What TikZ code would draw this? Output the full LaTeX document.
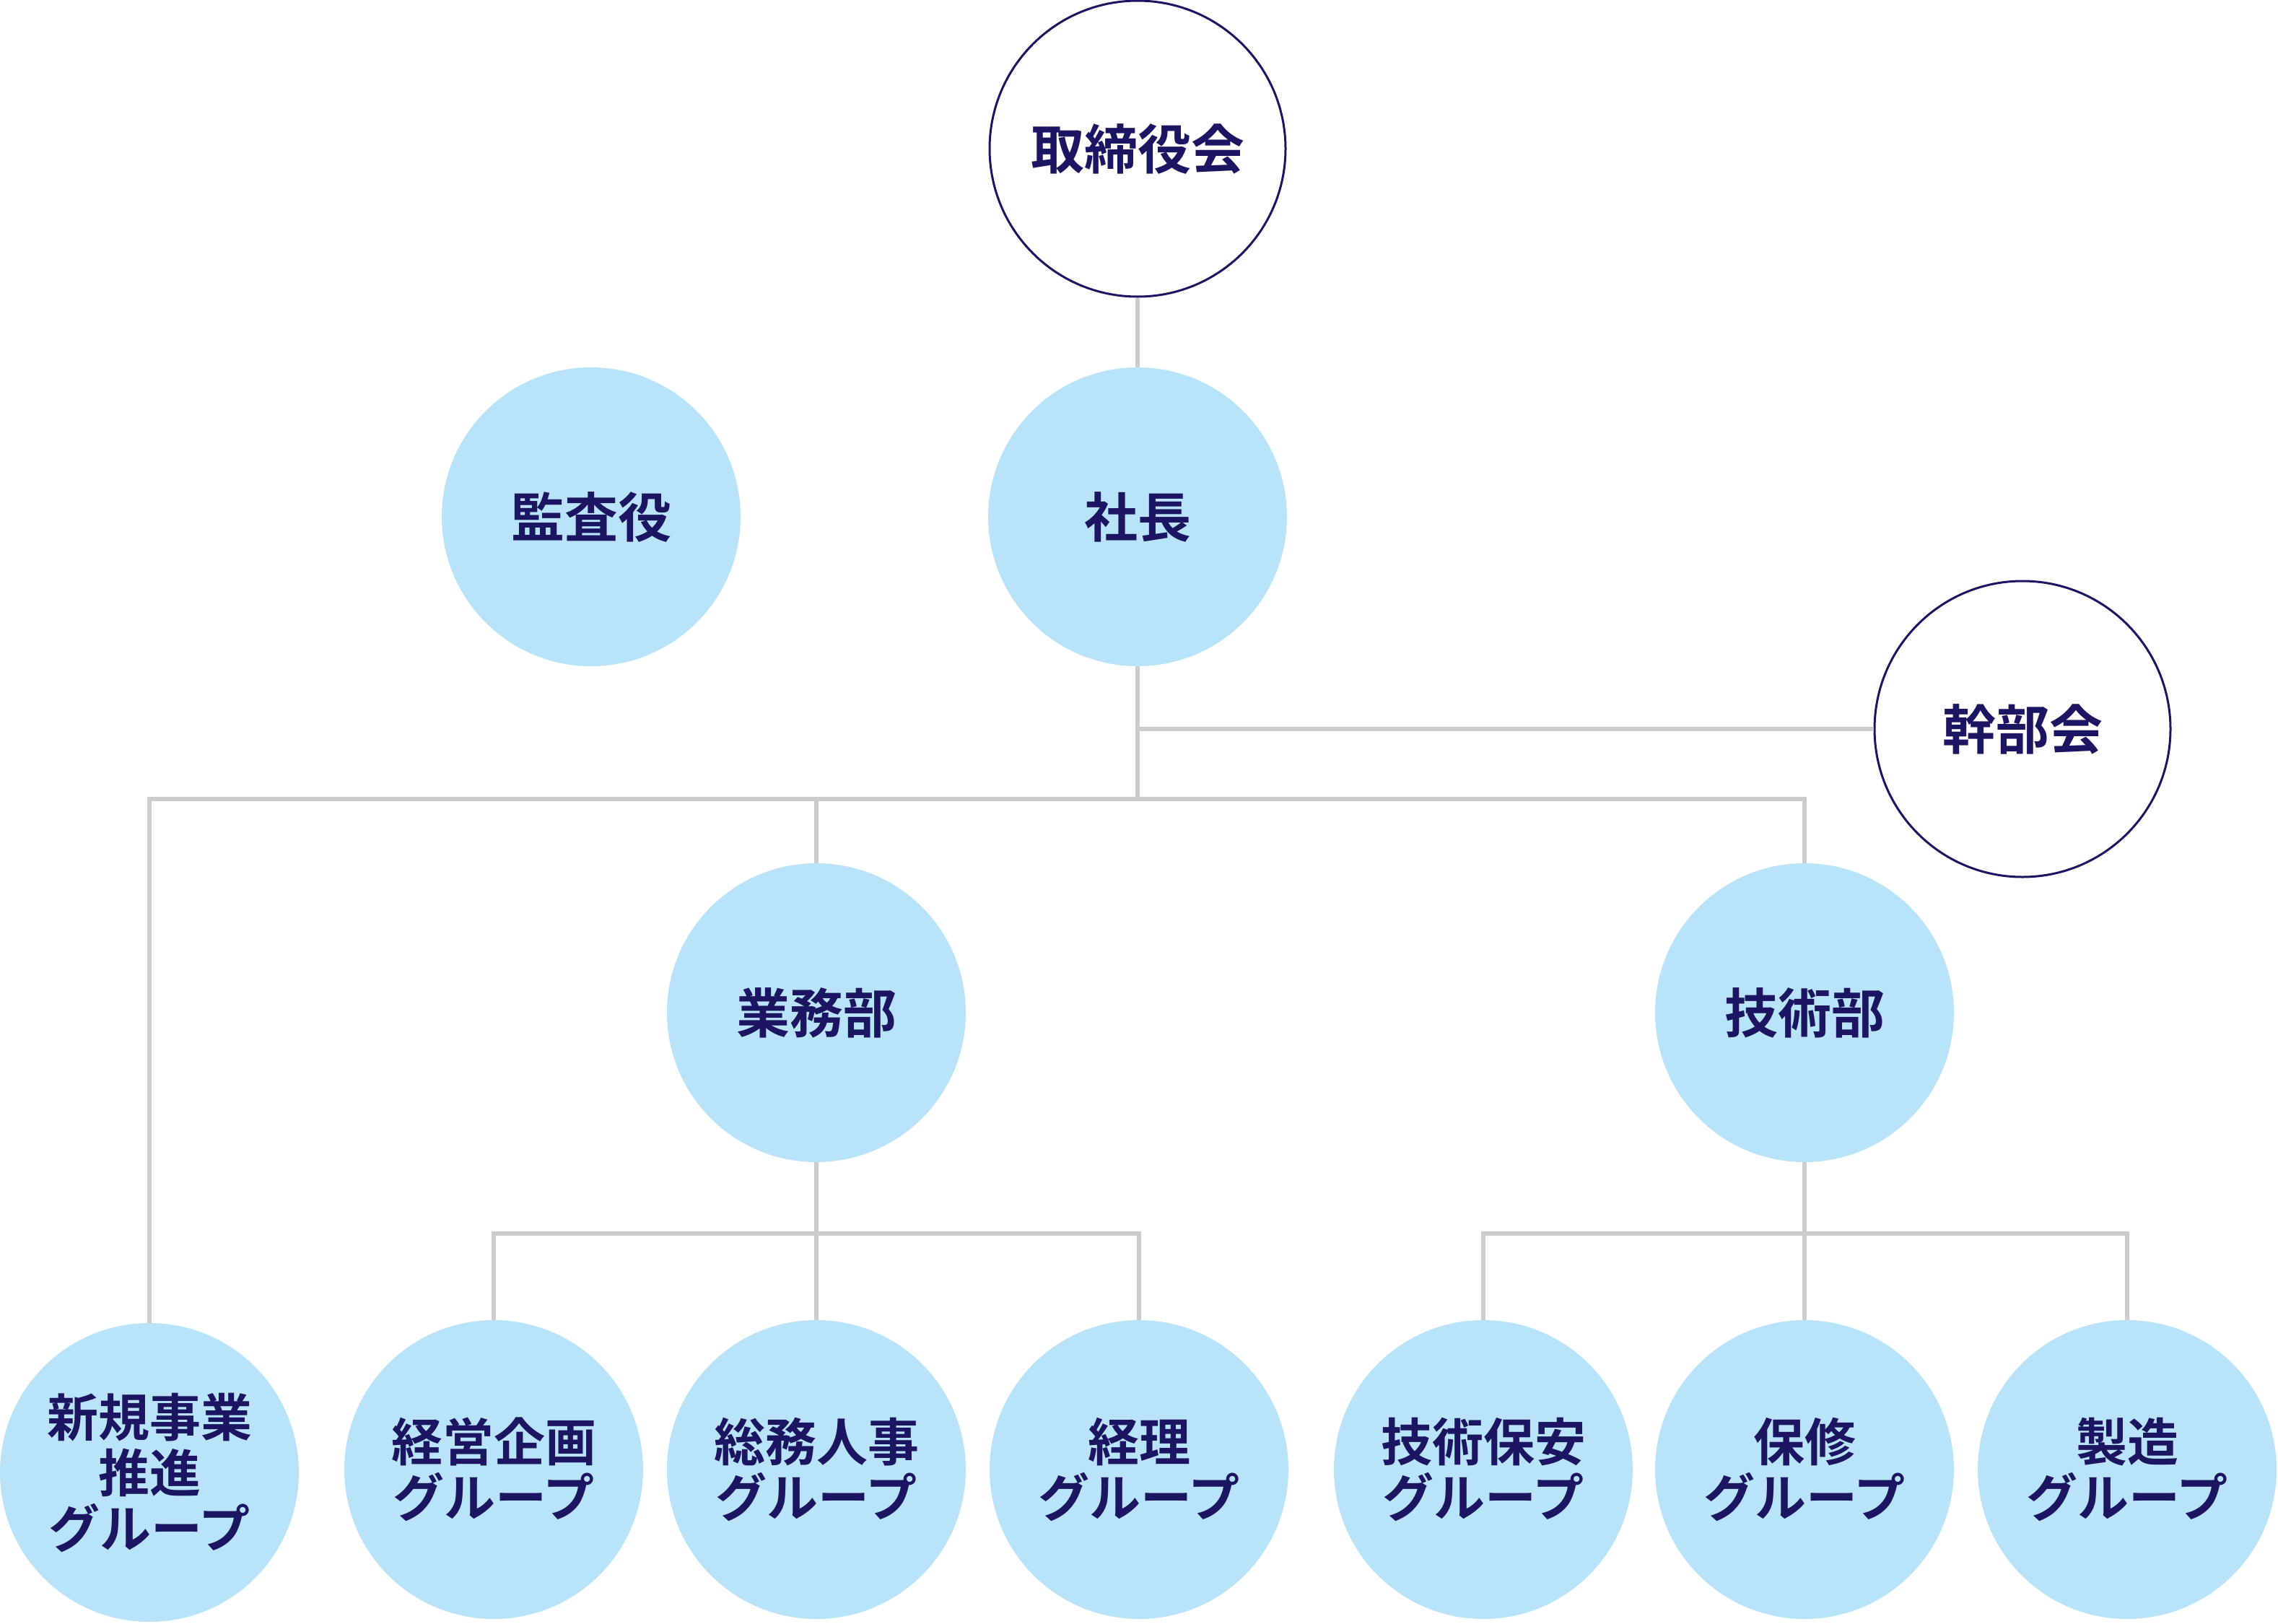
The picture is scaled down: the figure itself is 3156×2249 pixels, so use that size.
\documentclass[tikz,border=0pt]{standalone}
\usepackage{fontspec}
\newfontfamily\cjk{Noto Sans CJK JP}[BoldFont={Noto Sans CJK JP Bold}]
\definecolor{navy}{RGB}{28,22,98}
\definecolor{pale}{RGB}{185,227,249}
\definecolor{linegray}{RGB}{204,204,204}
\tikzset{
  orgbase/.style={circle, minimum size=414pt, inner sep=0pt, text=navy, align=center,
    font=\cjk\bfseries\fontsize{74}{78}\selectfont},
  filled/.style={orgbase, fill=pale},
  ringed/.style={orgbase, fill=white, draw=navy, line width=3pt, minimum size=410pt},
  grp/.style={filled, font=\cjk\bfseries\fontsize{71}{77}\selectfont},
  conn/.style={draw=linegray, line width=6pt}
}
\begin{document}
\begin{tikzpicture}[x=1pt,y=-1pt]
\useasboundingbox (0,0) rectangle (3156,2249);
% nodes
\node[ringed] (board) at (1576,206) {取締役会};
\node[filled] (audit) at (819,716) {監査役};
\node[filled] (pres) at (1576,716) {社長};
\node[ringed] (kanbu) at (2802,1010) {幹部会};
\node[filled] (gyomu) at (1131,1403) {業務部};
\node[filled] (gijutsu) at (2500,1403) {技術部};
\node[grp] (newbiz) at (207,2040) {新規事業\\推進\\グループ};
\node[grp] (keiei) at (684,2036) {経営企画\\グループ};
\node[grp] (soumu) at (1131,2036) {総務人事\\グループ};
\node[grp] (keiri) at (1578,2036) {経理\\グループ};
\node[grp] (hoan) at (2055,2036) {技術保安\\グループ};
\node[grp] (hoshu) at (2500,2036) {保修\\グループ};
\node[grp] (seizo) at (2947,2036) {製造\\グループ};
% bus coordinates
\coordinate (bus) at (0,1107);
\coordinate (gbus) at (0,1709);
% connectors
\draw[conn] (board.south) -- (pres.north);
\draw[conn] (pres.south) -- (pres.south |- bus);
\draw[conn] (pres.south |- kanbu.west) -- (kanbu.west);
\draw[conn] (newbiz.north) |- (gijutsu.north |- bus) -- (gijutsu.north);
\draw[conn] (gyomu.north |- bus) -- (gyomu.north);
\draw[conn] (gyomu.south) -- (soumu.north);
\draw[conn] (keiei.north) |- (keiri.north |- gbus) -- (keiri.north);
\draw[conn] (gijutsu.south) -- (hoshu.north);
\draw[conn] (hoan.north) |- (seizo.north |- gbus) -- (seizo.north);
\end{tikzpicture}
\end{document}
